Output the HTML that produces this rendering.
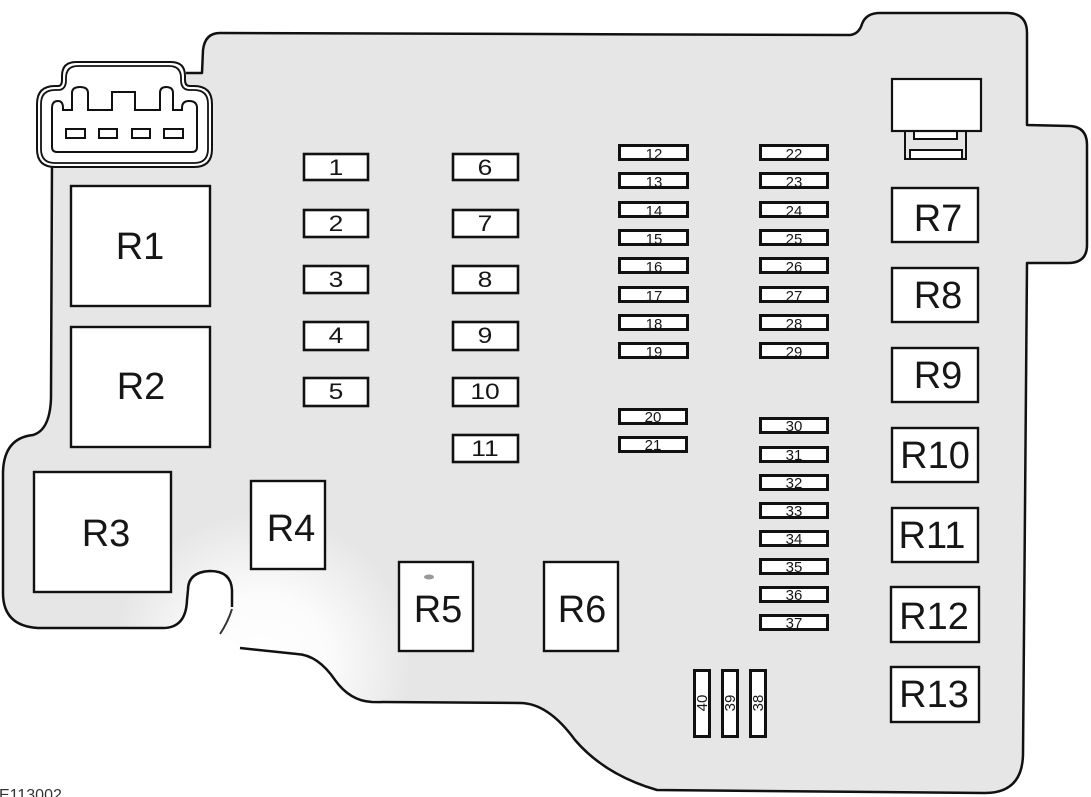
<!DOCTYPE html>
<html><head><meta charset="utf-8"><style>
html,body{margin:0;padding:0;background:#fff;}
svg{display:block;}
text{font-family:"Liberation Sans",Arial,sans-serif;fill:#161616;}
</style></head><body>
<svg width="1091" height="797" viewBox="0 0 1091 797" xmlns="http://www.w3.org/2000/svg">
<defs>
<radialGradient id="fade" cx="262" cy="662" r="150" gradientUnits="userSpaceOnUse">
<stop offset="0" stop-color="#fff" stop-opacity="1"/>
<stop offset="0.45" stop-color="#fff" stop-opacity="0.85"/>
<stop offset="1" stop-color="#fff" stop-opacity="0"/>
</radialGradient>
</defs>

<!-- body fill -->
<path d="M 220,33 L 850,35 Q 859,34 862,24 Q 866,13 880,13 L 1007,13 Q 1027,13 1027,33 L 1027,125 L 1070,126 Q 1087,127 1087,145 L 1087,245 Q 1087,263 1068,263 L 1027,263 L 1023,755 Q 1022,793 985,793 L 657,790 Q 605,775 575,740 Q 548,703 520,703 L 372,702 Q 350,701 335,680 Q 318,655 297,654 L 240,648 L 220,634 L 232,607 L 232,590 Q 231,571 210,571 Q 188,572 188,590 L 187,600 Q 186,628 163,628 L 38,628 Q 3,626 3,593 L 3,472 Q 4,438 33,435 Q 50,430 51,398 L 52,167 L 52,100 L 185,100 L 185,73 L 202,73 L 203,50 Q 205,33 220,33 Z" fill="#e6e6e6"/>
<rect x="100" y="500" width="330" height="297" fill="url(#fade)"/>

<!-- outline stroke -->
<path d="M 232,607 L 232,590 Q 231,571 210,571 Q 188,572 188,590 L 187,600 Q 186,628 163,628 L 38,628 Q 3,626 3,593 L 3,472 Q 4,438 33,435 Q 50,430 51,398 L 52,160 M 186,73 L 202,73 L 203,50 Q 205,33 220,33 L 850,35 Q 859,34 862,24 Q 866,13 880,13 L 1007,13 Q 1027,13 1027,33 L 1027,125 L 1070,126 Q 1087,127 1087,145 L 1087,245 Q 1087,263 1068,263 L 1027,263 L 1023,755 Q 1022,793 985,793 L 657,790 Q 605,775 575,740 Q 548,703 520,703 L 372,702 Q 350,701 335,680 Q 318,655 297,654 L 240,648" fill="none" stroke="#111" stroke-width="2.5" stroke-linejoin="round"/>
<path d="M 232,609 Q 228,622 220,634" fill="none" stroke="#333" stroke-width="2"/>

<!-- connector top-left -->
<path d="M 37,104 Q 37,86 55,86 L 58,86 Q 62,86 62,80 L 62,76 Q 62,62 76,62 L 171,62 Q 185,62 185,76 L 185,80 Q 185,86 190,86 L 194,86 Q 212,86 212,104 L 212,149 Q 212,167 194,167 L 55,167 Q 37,167 37,149 Z" fill="#fff" stroke="#111" stroke-width="2"/>
<path d="M 41,104 Q 41,90 55,90 L 58,90 Q 66,90 66,80 L 66,78 Q 66,66 78,66 L 169,66 Q 181,66 181,78 L 181,80 Q 181,90 190,90 L 194,90 Q 208,90 208,104 L 208,149 Q 208,163 194,163 L 55,163 Q 41,163 41,149 Z" fill="none" stroke="#111" stroke-width="1.8"/>
<path d="M 52,147 L 52,108 Q 52,101 58,101 Q 63,101 63,108 L 63,110 L 72,110 L 72,93 Q 72,87 80,87 Q 88,87 88,93 L 88,110 L 112,110 L 112,92 L 135,92 L 135,110 L 160,110 L 160,93 Q 160,87 166,87 Q 173,87 173,93 L 173,110 L 182,110 L 182,108 Q 182,101 189,101 Q 197,101 197,108 L 197,147 Q 197,152 192,152 L 57,152 Q 52,152 52,147 Z" fill="#fff" stroke="#111" stroke-width="2"/>
<g fill="#fff" stroke="#111" stroke-width="2">
<rect x="66" y="129" width="19" height="9"/>
<rect x="99" y="129" width="18" height="9"/>
<rect x="132" y="129" width="18" height="9"/>
<rect x="164" y="129" width="19" height="9"/>
</g>

<!-- top right connector -->
<rect x="905" y="131" width="61" height="28" fill="#e6e6e6" stroke="#111" stroke-width="2"/>
<rect x="914" y="131" width="43" height="8" fill="#fff" stroke="#111" stroke-width="2"/>
<rect x="910" y="150" width="52" height="9" fill="#fff" stroke="#111" stroke-width="2"/>
<rect x="892" y="79" width="89" height="52" fill="#fff" stroke="#111" stroke-width="2.2"/>

<!-- relays -->
<g fill="#fff" stroke="#111" stroke-width="2.4">
<rect x="71" y="186" width="139" height="120"/>
<rect x="71" y="327" width="139" height="120"/>
<rect x="34" y="472" width="137" height="120"/>
<rect x="251" y="481" width="74" height="88"/>
<rect x="399" y="562" width="74" height="89"/>
<rect x="544" y="562" width="74" height="89"/>
<rect x="892" y="188" width="86" height="54"/>
<rect x="892" y="268" width="86" height="54"/>
<rect x="892" y="348" width="86" height="54"/>
<rect x="892" y="428" width="86" height="54"/>
<rect x="892" y="508" width="86" height="54"/>
<rect x="891" y="587" width="88" height="55"/>
<rect x="891" y="667" width="88" height="55"/>
</g>
<ellipse cx="429" cy="577" rx="5" ry="2.5" fill="#999"/>
<g font-size="38" text-anchor="middle">
<text x="140" y="259">R1</text>
<text x="141" y="399">R2</text>
<text x="106" y="546">R3</text>
<text x="291" y="541">R4</text>
<text x="438" y="622">R5</text>
<text x="582" y="622">R6</text>
<text x="938" y="231">R7</text>
<text x="938" y="308">R8</text>
<text x="938" y="388">R9</text>
<text x="935" y="468">R10</text>
<text x="932" y="548">R11</text>
<text x="934" y="629">R12</text>
<text x="934" y="707">R13</text>
</g>

<!-- fuses 1-11 -->
<g fill="#fff" stroke="#111" stroke-width="2.6">
<rect x="304" y="154" width="64" height="26"/>
<rect x="304" y="210" width="64" height="27"/>
<rect x="304" y="266" width="64" height="27"/>
<rect x="304" y="322" width="64" height="28"/>
<rect x="304" y="378" width="64" height="28"/>
<rect x="453" y="154" width="65" height="26"/>
<rect x="453" y="210" width="65" height="27"/>
<rect x="453" y="266" width="65" height="27"/>
<rect x="453" y="322" width="65" height="28"/>
<rect x="453" y="378" width="65" height="28"/>
<rect x="453" y="435" width="65" height="27"/>
</g>
<g font-size="22" text-anchor="middle">
<text transform="translate(336,175) scale(1.2,1)">1</text>
<text transform="translate(336,231) scale(1.2,1)">2</text>
<text transform="translate(336,287) scale(1.2,1)">3</text>
<text transform="translate(336,343) scale(1.2,1)">4</text>
<text transform="translate(336,399) scale(1.2,1)">5</text>
<text transform="translate(485,175) scale(1.2,1)">6</text>
<text transform="translate(485,231) scale(1.2,1)">7</text>
<text transform="translate(485,287) scale(1.2,1)">8</text>
<text transform="translate(485,343) scale(1.2,1)">9</text>
<text transform="translate(485,399) scale(1.2,1)">10</text>
<text transform="translate(485,456) scale(1.2,1)">11</text>
</g>

<!-- small fuses -->
<g fill="#fff" stroke="#111" stroke-width="3">
<rect x="619.5" y="145.5" width="68" height="14"/>
<rect x="619.5" y="173.5" width="68" height="14"/>
<rect x="619.5" y="202.5" width="68" height="14"/>
<rect x="619.5" y="230.5" width="68" height="14"/>
<rect x="619.5" y="258.5" width="68" height="14"/>
<rect x="619.5" y="287.5" width="68" height="14"/>
<rect x="619.5" y="315.5" width="68" height="14"/>
<rect x="619.5" y="343.5" width="68" height="14"/>
<rect x="760.5" y="145.5" width="67" height="14"/>
<rect x="760.5" y="173.5" width="67" height="14"/>
<rect x="760.5" y="202.5" width="67" height="14"/>
<rect x="760.5" y="230.5" width="67" height="14"/>
<rect x="760.5" y="258.5" width="67" height="14"/>
<rect x="760.5" y="287.5" width="67" height="14"/>
<rect x="760.5" y="315.5" width="67" height="14"/>
<rect x="760.5" y="343.5" width="67" height="14"/>
<rect x="619.5" y="409.5" width="67" height="14"/>
<rect x="619.5" y="437.5" width="67" height="14"/>
<rect x="760.5" y="418.5" width="67" height="14"/>
<rect x="760.5" y="447.5" width="67" height="14"/>
<rect x="760.5" y="475.5" width="67" height="14"/>
<rect x="760.5" y="503.5" width="67" height="14"/>
<rect x="760.5" y="531.5" width="67" height="14"/>
<rect x="760.5" y="559.5" width="67" height="14"/>
<rect x="760.5" y="587.5" width="67" height="14"/>
<rect x="760.5" y="615.5" width="67" height="14"/>
<rect x="694.5" y="670.5" width="15" height="66"/>
<rect x="722.5" y="670.5" width="15" height="66"/>
<rect x="750.5" y="670.5" width="15" height="66"/>
</g>
<g font-size="15" text-anchor="middle">
<text x="654" y="159">12</text>
<text x="654" y="187">13</text>
<text x="654" y="216">14</text>
<text x="654" y="244">15</text>
<text x="654" y="272">16</text>
<text x="654" y="301">17</text>
<text x="654" y="329">18</text>
<text x="654" y="357">19</text>
<text x="794" y="159">22</text>
<text x="794" y="187">23</text>
<text x="794" y="216">24</text>
<text x="794" y="244">25</text>
<text x="794" y="272">26</text>
<text x="794" y="301">27</text>
<text x="794" y="329">28</text>
<text x="794" y="357">29</text>
<text x="653" y="422">20</text>
<text x="653" y="450">21</text>
<text x="794" y="431">30</text>
<text x="794" y="460">31</text>
<text x="794" y="488">32</text>
<text x="794" y="516">33</text>
<text x="794" y="544">34</text>
<text x="794" y="572">35</text>
<text x="794" y="600">36</text>
<text x="794" y="628">37</text>
<text transform="translate(702,703) rotate(-90)" y="5">40</text>
<text transform="translate(730,703) rotate(-90)" y="5">39</text>
<text transform="translate(758,703) rotate(-90)" y="5">38</text>
</g>

<text x="-1" y="800" font-size="16" style="fill:#333">E113002</text>
</svg>
</body></html>
